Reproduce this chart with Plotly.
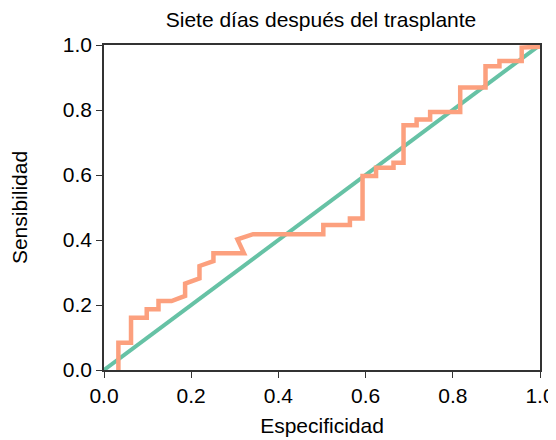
import plotly.graph_objects as go

# ROC curve points (1 - specificity on x, sensitivity on y)
roc_x = [0.033, 0.033, 0.062, 0.062, 0.098, 0.098, 0.125, 0.125, 0.155, 0.186, 0.186,
         0.219, 0.219, 0.251, 0.251, 0.321, 0.306, 0.342, 0.503, 0.503, 0.564, 0.564,
         0.593, 0.593, 0.624, 0.624, 0.664, 0.664, 0.687, 0.687, 0.717, 0.717, 0.748,
         0.748, 0.817, 0.817, 0.875, 0.875, 0.907, 0.907, 0.958, 0.958, 1.0]
roc_y = [0.0, 0.084, 0.084, 0.161, 0.161, 0.187, 0.187, 0.212, 0.212, 0.228, 0.266,
         0.282, 0.32, 0.335, 0.359, 0.359, 0.402, 0.418, 0.418, 0.446, 0.446, 0.466,
         0.466, 0.597, 0.597, 0.622, 0.622, 0.638, 0.638, 0.753, 0.753, 0.771, 0.771,
         0.794, 0.794, 0.869, 0.869, 0.935, 0.935, 0.951, 0.951, 0.992, 0.995]
diag = [0.0, 1.0]
ticks = [0.0, 0.2, 0.4, 0.6, 0.8, 1.0]
tick_text = ["0.0", "0.2", "0.4", "0.6", "0.8", "1.0"]

fig = go.Figure()
fig.add_trace(go.Scatter(x=diag, y=diag, mode="lines",
                         line=dict(color="#66C2A5", width=4), showlegend=False))
fig.add_trace(go.Scatter(x=roc_x, y=roc_y, mode="lines",
                         line=dict(color="#FCA07E", width=4.5), showlegend=False))

font = dict(family="Liberation Sans, Arial, sans-serif", size=21, color="#000000")
axis_common = dict(range=[0, 1], tickvals=ticks, ticktext=tick_text,
                   showgrid=False, zeroline=False, showline=True,
                   linecolor="#333333", linewidth=1.5, mirror=True,
                   ticks="outside", ticklen=6, tickwidth=1.2, tickcolor="#333333",
                   tickfont=font, automargin=False)

fig.update_layout(
    width=556, height=440,
    margin=dict(l=96, r=24, t=37, b=78),
    paper_bgcolor="white", plot_bgcolor="white",
    font=font,
    title=dict(text="Siete días después del trasplante", x=313 / 556,
               xanchor="center", y=1 - 12 / 440, yanchor="middle",
               font=dict(family="Liberation Sans, Arial, sans-serif", size=21, color="#000")),
    xaxis=dict(axis_common, title=dict(text="Especificidad", font=font, standoff=12)),
    yaxis=dict(axis_common, title=dict(text="Sensibilidad", font=font, standoff=32)),
)

fig.write_html("out.html")
